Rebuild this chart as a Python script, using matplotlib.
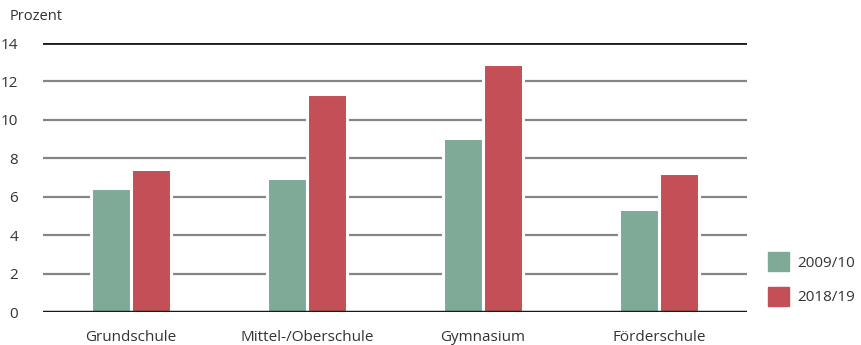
import numpy as np
import matplotlib.pyplot as plt
from matplotlib.patches import Patch

plt.rcParams['font.family'] = ['Open Sans', 'DejaVu Sans']

categories = ['Grundschule', 'Mittel-/Oberschule', 'Gymnasium', 'Förderschule']
labels = ['2009/10', '2018/19']
v2009 = [6.45, 6.95, 9.05, 5.35]
v2018 = [7.45, 11.35, 12.9, 7.25]
yticks = [0, 2, 4, 6, 8, 10, 12, 14]

green = '#7faa97'
red = '#c34f57'
txt = '#333333'

fig = plt.figure(figsize=(8.61, 3.45), dpi=100)
ax = fig.add_axes([43/861, 1-312/345, 704/861, 269/345])

x = np.arange(len(categories))
w = 0.225
ax.bar(x - w/2, v2009, w, color=green, edgecolor='white', linewidth=2.2, zorder=3)
ax.bar(x + w/2, v2018, w, color=red, edgecolor='white', linewidth=2.2, zorder=3)

for t in yticks[1:-1]:
    ax.axhline(t, color='#858585', lw=1.6, zorder=1)
ax.axhline(14, color='#1a1a1a', lw=2, zorder=4)
ax.axhline(0, color='#1a1a1a', lw=2.5, zorder=4)

ax.set_xlim(-0.5, 3.5)
ax.set_ylim(0, 14)
ax.set_yticks(yticks)
ax.set_yticklabels([str(t) for t in yticks], color=txt, fontsize=11)
ax.set_xticks(x)
ax.set_xticklabels(categories, color=txt, fontsize=11)
ax.tick_params(axis='both', length=0)
ax.tick_params(axis='y', pad=18)
ax.tick_params(axis='x', pad=13)
for s in ax.spines.values():
    s.set_visible(False)

fig.text(10/861, 1-17/345, 'Prozent', color=txt, fontsize=10.5, va='center')

handles = [Patch(color=green), Patch(color=red)]
fig.legend(handles, labels, loc='center left', bbox_to_anchor=(768/861, 1-279/345),
           frameon=False, fontsize=11, handlelength=1.4, handleheight=1.6,
           handletextpad=0.5, labelspacing=1.0, labelcolor=txt, borderpad=0,
           borderaxespad=0)

fig.savefig('out.png', dpi=100)
